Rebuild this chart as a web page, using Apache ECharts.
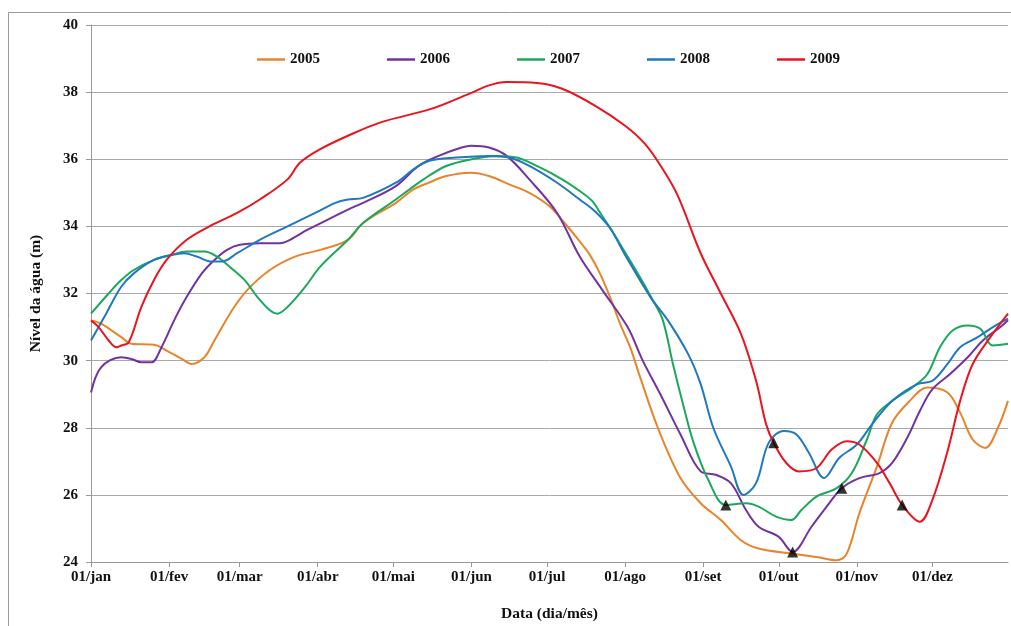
<!DOCTYPE html>
<html>
<head>
<meta charset="utf-8">
<script src="https://cdn.jsdelivr.net/npm/echarts@6/dist/echarts.min.js"></script>
<style>html,body{margin:0;padding:0;background:#fff;}#c{width:1011px;height:626px;}</style>
</head>
<body>
<div id="c"></div>
<script>
const monthDays = [0,31,59,90,120,151,181,212,243,273,304,334];
const monthLabels = ['01/jan','01/fev','01/mar','01/abr','01/mai','01/jun','01/jul','01/ago','01/set','01/out','01/nov','01/dez'];
const yTicks = [24,26,28,30,32,34,36,38,40];
const seriesNames = ['2005','2006','2007','2008','2009'];

const s2005 = [[0,31.2],[4,31.1],[12,30.7],[16,30.5],[25,30.47],[30,30.3],[36,30.05],[40,29.9],[45,30.1],[49,30.6],[56,31.5],[62,32.1],[71,32.7],[81,33.1],[91,33.3],[102,33.6],[108,34.1],[121,34.7],[128,35.1],[134,35.3],[141,35.5],[151,35.6],[158,35.5],[166,35.25],[174,35.0],[182,34.6],[188,34.1],[194,33.55],[198,33.15],[202,32.6],[206,31.9],[210,31.1],[214,30.4],[218,29.5],[225,28.0],[234,26.5],[242,25.75],[250,25.25],[258,24.65],[265,24.4],[278,24.25],[288,24.15],[296,24.05],[300,24.25],[305,25.45],[312,26.85],[318,28.15],[325,28.8],[332,29.2],[340,29.05],[345,28.45],[350,27.65],[355,27.4],[360,28.0],[364,28.8]];
const s2006 = [[0,29.05],[4,29.8],[12,30.1],[16,30.05],[20,29.95],[24,29.95],[28,30.4],[33,31.2],[38,31.9],[44,32.6],[49,33.0],[54,33.3],[59,33.45],[67,33.5],[75,33.5],[79,33.6],[86,33.9],[94,34.2],[102,34.5],[108,34.7],[121,35.2],[130,35.8],[138,36.1],[145,36.3],[151,36.4],[158,36.35],[165,36.1],[174,35.4],[185,34.4],[194,33.1],[203,32.1],[213,31.0],[219,30.0],[226,29.0],[234,27.8],[242,26.7],[248,26.6],[254,26.35],[260,25.55],[265,25.05],[273,24.75],[278.5,24.3],[286,25.05],[293,25.75],[298,26.2],[305,26.5],[313,26.65],[318,26.95],[324,27.7],[329,28.5],[334,29.15],[341,29.6],[348,30.1],[354,30.6],[361,31.0],[364,31.2]];
const s2007 = [[0,31.4],[7,32.0],[12,32.4],[17,32.7],[25,33.0],[32,33.15],[38,33.25],[45,33.25],[50,33.1],[55,32.8],[61,32.4],[66,31.9],[71,31.5],[74,31.4],[78,31.6],[85,32.2],[91,32.8],[102,33.6],[108,34.1],[121,34.8],[132,35.4],[141,35.8],[151,36.0],[161,36.1],[169,36.05],[177,35.8],[187,35.4],[195,35.0],[199,34.75],[203,34.3],[207,33.85],[211,33.35],[217,32.6],[223,31.8],[227,31.2],[231,29.9],[235,28.7],[239,27.6],[245,26.45],[252,25.7],[260,25.75],[265,25.65],[272,25.35],[278,25.25],[282,25.55],[288,25.95],[296,26.2],[302,26.65],[308,27.65],[312,28.4],[318,28.8],[326,29.2],[332,29.6],[337,30.4],[342,30.9],[348,31.05],[353,30.95],[358,30.45],[364,30.5]];
const s2008 = [[0,30.6],[6,31.4],[12,32.2],[17,32.6],[25,33.0],[32,33.15],[37,33.2],[42,33.1],[48,32.95],[52,32.95],[58,33.2],[67,33.6],[78,34.0],[89,34.4],[97,34.7],[102,34.8],[108,34.85],[121,35.3],[128,35.7],[134,35.95],[145,36.05],[158,36.1],[166,36.05],[174,35.8],[185,35.3],[194,34.8],[200,34.45],[206,33.95],[212,33.15],[222,31.9],[229,31.2],[237,30.2],[242,29.3],[247,28.0],[254,26.85],[259,26.0],[264,26.35],[269,27.55],[275,27.9],[280,27.8],[285,27.25],[291,26.5],[297,27.1],[304,27.5],[310,28.1],[318,28.8],[328,29.3],[334,29.4],[340,29.9],[345,30.4],[352,30.7],[358,31.0],[364,31.25]];
const s2009 = [[0,31.2],[3,31.0],[7,30.6],[10,30.4],[12,30.45],[15,30.55],[20,31.6],[25,32.4],[30,33.0],[38,33.6],[47,34.0],[58,34.4],[67,34.8],[78,35.4],[83,35.9],[91,36.3],[102,36.7],[115,37.1],[135,37.5],[150,37.95],[158,38.2],[165,38.3],[177,38.27],[187,38.1],[200,37.6],[212,37.0],[220,36.45],[227,35.7],[233,34.9],[242,33.2],[250,32.0],[258,30.8],[264,29.4],[268,28.1],[271,27.55],[276,26.95],[281,26.7],[288,26.8],[294,27.35],[300,27.6],[305,27.5],[312,26.95],[317,26.35],[322,25.7],[329,25.2],[334,25.85],[340,27.3],[345,28.8],[350,29.9],[357,30.7],[364,31.4]];
const markers = [[252,25.7],[271,27.55],[278.5,24.3],[298,26.2],[322,25.7]];

const colors = ['#E8842C','#7232A2','#1BA85C','#1F78C0','#E8141E'];
const allData = [s2005,s2006,s2007,s2008,s2009];
const font = '"Liberation Serif", "Times New Roman", serif';

const chart = echarts.init(document.getElementById('c'), null, {renderer:'canvas'});
const series = seriesNames.map((n,i)=>({
  name:n, type:'line', data:allData[i], showSymbol:false, smooth:0.35,
  lineStyle:{width:2, color:colors[i]}, itemStyle:{color:colors[i]}, z:2
}));
series.push({
  name:'marcos', type:'scatter', data:markers, symbol:'triangle', symbolSize:11,
  itemStyle:{color:'#000'}, z:5
});
chart.setOption({
  animation:false,
  backgroundColor:'#fff',
  graphic:[{type:'rect', shape:{x:8.5,y:12.5,width:1010,height:620}, style:{fill:'none', stroke:'#9a9a9a', lineWidth:1}, silent:true}],
  grid:{left:91, right:3, top:25, bottom:64, outerBoundsMode:'none', containLabel:false},
  legend:{
    data:seriesNames, left:252, top:47, icon:'rect', itemWidth:28, itemHeight:2.5, itemGap:67,
    textStyle:{fontFamily:font, fontWeight:'bold', fontSize:15, color:'#111'}
  },
  xAxis:{
    type:'value', min:0, max:364,
    name:'Data (dia/mês)', nameLocation:'middle', nameGap:44,
    nameTextStyle:{fontFamily:font, fontWeight:'bold', fontSize:15.5, color:'#111'},
    axisLine:{show:true, lineStyle:{color:'#999', width:1}},
    axisTick:{show:true, length:5, customValues:monthDays, lineStyle:{color:'#999'}},
    axisLabel:{customValues:monthDays, formatter:(v)=>monthLabels[monthDays.indexOf(v)], fontFamily:font, fontWeight:'bold', fontSize:15, color:'#111', margin:8},
    splitLine:{show:false}
  },
  yAxis:{
    type:'value', min:24, max:40, interval:2,
    name:'Nível da água (m)', nameLocation:'middle', nameGap:47,
    nameTextStyle:{fontFamily:font, fontWeight:'bold', fontSize:15.5, color:'#111'},
    axisLine:{show:true, lineStyle:{color:'#999', width:1}},
    axisTick:{show:true, length:5, lineStyle:{color:'#999'}},
    axisLabel:{fontFamily:font, fontWeight:'bold', fontSize:15, color:'#111', margin:13},
    splitLine:{show:true, lineStyle:{color:'#aaa', width:1}}
  },
  series:series
});
</script>
</body>
</html>
